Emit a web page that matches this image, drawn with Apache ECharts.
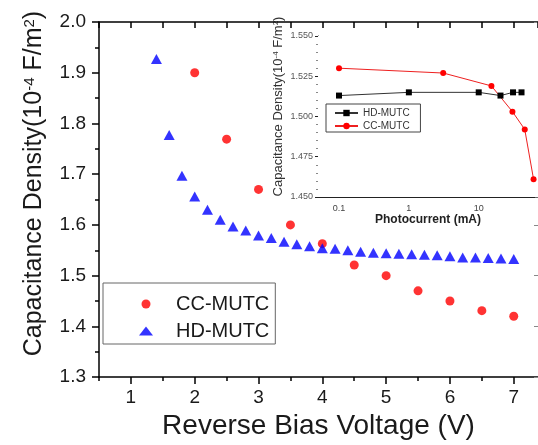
<!DOCTYPE html>
<html>
<head>
<meta charset="utf-8">
<script src="https://cdn.jsdelivr.net/npm/echarts@6/dist/echarts.min.js"></script>
<style>html,body{margin:0;padding:0;background:#fff}#c{width:538px;height:445px}</style>
</head>
<body>
<div id="c"></div>
<script>
// ---- main plot data ----
const ccX = [2, 2.5, 3, 3.5, 4, 4.5, 5, 5.5, 6, 6.5, 7];
const ccY = [1.900, 1.769, 1.670, 1.600, 1.563, 1.521, 1.500, 1.470, 1.450, 1.431, 1.420];
const hdX = [1.4, 1.6, 1.8, 2.0, 2.2, 2.4, 2.6, 2.8, 3.0, 3.2, 3.4, 3.6, 3.8, 4.0, 4.2, 4.4, 4.6, 4.8, 5.0, 5.2, 5.4, 5.6, 5.8, 6.0, 6.2, 6.4, 6.6, 6.8, 7.0];
const hdY = [1.927, 1.777, 1.697, 1.656, 1.630, 1.610, 1.597, 1.589, 1.579, 1.574, 1.567, 1.562, 1.558, 1.554, 1.553, 1.550, 1.547, 1.545, 1.544, 1.543, 1.542, 1.541, 1.540, 1.538, 1.536, 1.536, 1.535, 1.534, 1.533];
const xTicks = [1, 2, 3, 4, 5, 6, 7];
const xMinorTicks = [0.5, 1.5, 2.5, 3.5, 4.5, 5.5, 6.5];
// ---- inset data ----
const insHdX = [0.1, 1, 10, 20.5, 31, 41];
const insHdY = [1.513, 1.515, 1.515, 1.513, 1.515, 1.515];
const insCcX = [0.1, 3.1, 15.2, 30.4, 45.6, 61];
const insCcY = [1.530, 1.527, 1.519, 1.503, 1.492, 1.461];
const insXLabels = [0.1, 1, 10];
const insXMinor = [0.06, 0.07, 0.08, 0.09, 0.2, 0.3, 0.4, 0.5, 0.6, 0.7, 0.8, 0.9, 2, 3, 4, 5, 6, 7, 8, 9, 20, 30, 40, 50, 60, 70];

const zip = (a, b) => a.map((v, i) => [v, b[i]]);
const FONT = 'Liberation Sans, Arial, sans-serif';
const INK = '#1a1a1a';

const chart = echarts.init(document.getElementById('c'), null, {renderer: 'canvas'});
chart.setOption({
  backgroundColor: '#fff',
  animation: false,
  textStyle: {fontFamily: FONT},
  grid: [
    {left: 99, top: 22, right: 0, bottom: 63},
    {left: 318, top: 36, right: 0, bottom: 248, show: true, backgroundColor: '#fff', borderWidth: 0, z: 5}
  ],
  legend: [
    {
      data: ['CC-MUTC', 'HD-MUTC'],
      orient: 'vertical', left: 103, top: 283,
      padding: [11, 6, 3, 36], itemGap: 7,
      itemWidth: 14, itemHeight: 9,
      borderColor: '#666', borderWidth: 1,
      textStyle: {fontSize: 20, color: INK, fontFamily: FONT, padding: [0, 0, 0, 18], lineHeight: 20}
    },
    {
      data: ['HD-MUTC ', 'CC-MUTC '],
      orient: 'vertical', left: 326, top: 104,
      padding: [4, 8, 1, 8], itemGap: 3,
      itemWidth: 23, itemHeight: 8,
      borderColor: '#444', borderWidth: 1,
      backgroundColor: '#fff', z: 10,
      textStyle: {fontSize: 10, color: '#333', fontFamily: FONT, lineHeight: 10}
    }
  ],
  xAxis: [
    {
      type: 'value', gridIndex: 0, min: 0.5, max: 7.38, interval: 0.5,
      name: 'Reverse Bias Voltage (V)', nameLocation: 'middle', nameGap: 31,
      nameTextStyle: {fontSize: 28, color: INK, fontFamily: FONT},
      axisLine: {show: true, onZero: false, lineStyle: {color: '#000', width: 1.5}},
      axisTick: {show: true, customValues: xTicks, length: 7, lineStyle: {color: '#000', width: 1.5}},
      axisLabel: {customValues: xTicks, fontSize: 19, color: INK, margin: 11},
      splitLine: {show: false}
    },
    {
      type: 'value', gridIndex: 0, min: 0.5, max: 7.38, interval: 0.5, position: 'bottom',
      axisLine: {show: false, onZero: false},
      axisTick: {show: true, customValues: xMinorTicks, length: 4, lineStyle: {color: '#000', width: 1.5}},
      axisLabel: {show: false}, splitLine: {show: false}
    },
    {
      type: 'value', gridIndex: 0, min: 0.5, max: 7.38, interval: 0.5, position: 'top',
      axisLine: {show: true, onZero: false, lineStyle: {color: '#000', width: 1.5}},
      axisTick: {show: true, inside: true, length: 6, lineStyle: {color: '#000', width: 1.5}},
      axisLabel: {show: false}, splitLine: {show: false}
    },
    {
      type: 'log', gridIndex: 1, min: 0.05, max: 70.6,
      name: 'Photocurrent (mA)', nameLocation: 'middle', nameGap: 17,
      nameTextStyle: {fontSize: 12, fontWeight: 'bold', color: '#222', fontFamily: FONT},
      axisLine: {show: true, onZero: false, lineStyle: {color: '#222', width: 1}},
      axisTick: {show: true, inside: true, customValues: insXLabels, length: 4, lineStyle: {color: '#222'}},
      axisLabel: {customValues: insXLabels, fontSize: 9, color: '#444', margin: 7,
        formatter: v => String(v)},
      splitLine: {show: false}
    },
    {
      type: 'log', gridIndex: 1, min: 0.05, max: 70.6, position: 'bottom',
      axisLine: {show: false, onZero: false},
      axisTick: {show: true, inside: true, customValues: insXMinor, length: 2, lineStyle: {color: '#555'}},
      axisLabel: {show: false}, splitLine: {show: false}
    },
    {
      type: 'log', gridIndex: 1, min: 0.05, max: 70.6, position: 'top',
      axisLine: {show: true, onZero: false, lineStyle: {color: '#222', width: 1}},
      axisTick: {show: true, inside: true, customValues: insXMinor.concat(insXLabels), length: 2, lineStyle: {color: '#555'}},
      axisLabel: {show: false}, splitLine: {show: false}
    }
  ],
  yAxis: [
    {
      type: 'value', gridIndex: 0, min: 1.3, max: 2.0, interval: 0.1,
      name: 'Capacitance Density(10{sup|-4} F/m{sup|2})', nameLocation: 'middle', nameGap: 52,
      nameTextStyle: {fontSize: 25, color: INK, fontFamily: FONT, padding: [0, 0, 0, 32],
        rich: {sup: {fontSize: 15, verticalAlign: 'top', color: INK, fontFamily: FONT}}},
      axisLine: {show: true, onZero: false, lineStyle: {color: '#000', width: 1.5}},
      axisTick: {show: true, length: 7, lineStyle: {color: '#000', width: 1.5}},
      minorTick: {show: true, splitNumber: 2, length: 4, lineStyle: {color: '#000', width: 1.5}},
      axisLabel: {fontSize: 19, color: INK, margin: 13, formatter: v => v.toFixed(1)},
      splitLine: {show: false}
    },
    {
      type: 'value', gridIndex: 0, min: 1.3, max: 2.0, interval: 0.1, position: 'right',
      axisLine: {show: false, onZero: false},
      axisTick: {show: true, inside: true, length: 4, lineStyle: {color: '#888', width: 1}},
      axisLabel: {show: false}, splitLine: {show: false}
    },
    {
      type: 'value', gridIndex: 1, min: 1.45, max: 1.55, interval: 0.025,
      name: 'Capacitance Density(10{sup|-4} F/m{sup|2})', nameLocation: 'middle', nameGap: 33,
      nameTextStyle: {fontSize: 13, color: '#333', fontFamily: FONT, padding: [0, 0, 0, 20],
        rich: {sup: {fontSize: 8, verticalAlign: 'top', color: '#333', fontFamily: FONT}}},
      axisLine: {show: true, onZero: false, lineStyle: {color: '#222', width: 1}},
      axisTick: {show: true, length: 3, lineStyle: {color: '#222'}},
      minorTick: {show: true, splitNumber: 5, length: 2, lineStyle: {color: '#888'}},
      axisLabel: {fontSize: 9, color: '#555', margin: 5, formatter: v => v.toFixed(3)},
      splitLine: {show: false}
    },
    {
      type: 'value', gridIndex: 1, min: 1.45, max: 1.55, interval: 0.025, position: 'right',
      axisLine: {show: false, onZero: false},
      axisTick: {show: true, inside: true, length: 3, lineStyle: {color: '#666'}},
      axisLabel: {show: false}, splitLine: {show: false}
    }
  ],
  series: [
    {
      name: 'CC-MUTC', type: 'scatter', xAxisIndex: 0, yAxisIndex: 0,
      data: zip(ccX, ccY), symbol: 'circle', symbolSize: 9,
      itemStyle: {color: '#ff0000'}
    },
    {
      name: 'HD-MUTC', type: 'scatter', xAxisIndex: 0, yAxisIndex: 0,
      data: zip(hdX, hdY), symbol: 'triangle', symbolSize: [11, 10],
      itemStyle: {color: '#0000ff'}
    },
    {
      name: 'HD-MUTC ', type: 'line', xAxisIndex: 3, yAxisIndex: 2,
      data: zip(insHdX, insHdY), symbol: 'rect', symbolSize: 6, showSymbol: true,
      lineStyle: {color: '#333', width: 1}, itemStyle: {color: '#000'}, z: 6
    },
    {
      name: 'CC-MUTC ', type: 'line', xAxisIndex: 3, yAxisIndex: 2,
      data: zip(insCcX, insCcY), symbol: 'circle', symbolSize: 6, showSymbol: true,
      lineStyle: {color: '#ee2020', width: 1}, itemStyle: {color: '#ff0000'}, z: 6
    }
  ]
});
</script>
</body>
</html>
